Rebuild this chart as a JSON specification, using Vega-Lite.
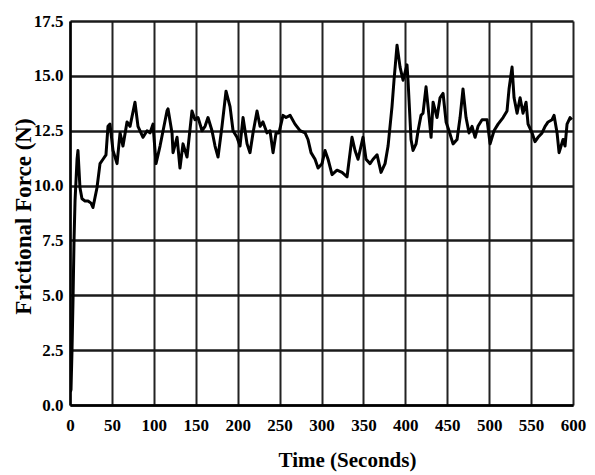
{
  "$schema": "https://vega.github.io/schema/vega-lite/v6.json",
  "autosize": {"type": "none"},
  "width": 503,
  "height": 384,
  "padding": {"left": 70, "top": 21, "right": 22, "bottom": 70},
  "background": "white",
  "config": {
    "view": {"stroke": null},
    "font": "Liberation Serif"
  },
  "data": {
    "values": [
      {"t": 0.5, "f": 0.6}, {"t": 1.2, "f": 0.7}, {"t": 2.4, "f": 2.5}, {"t": 3.6, "f": 4.8}, {"t": 4.8, "f": 7.5},
      {"t": 6.0, "f": 9.3}, {"t": 8.4, "f": 11.2}, {"t": 9.5, "f": 11.6}, {"t": 11.9, "f": 9.9}, {"t": 14.3, "f": 9.4},
      {"t": 17.9, "f": 9.3}, {"t": 21.5, "f": 9.3}, {"t": 25.1, "f": 9.2}, {"t": 27.4, "f": 9.0}, {"t": 32.2, "f": 9.9},
      {"t": 35.8, "f": 11.0}, {"t": 39.4, "f": 11.2}, {"t": 42.9, "f": 11.4}, {"t": 45.3, "f": 12.7}, {"t": 47.7, "f": 12.8},
      {"t": 51.3, "f": 11.6}, {"t": 56.1, "f": 11.0}, {"t": 59.7, "f": 12.4}, {"t": 63.2, "f": 11.8}, {"t": 68.0, "f": 12.9},
      {"t": 71.6, "f": 12.7}, {"t": 77.5, "f": 13.8}, {"t": 81.1, "f": 12.7}, {"t": 87.1, "f": 12.2}, {"t": 91.9, "f": 12.5},
      {"t": 95.4, "f": 12.4}, {"t": 99.0, "f": 12.8}, {"t": 102.6, "f": 11.0}, {"t": 107.4, "f": 11.8}, {"t": 115.7, "f": 13.4},
      {"t": 116.9, "f": 13.5}, {"t": 121.7, "f": 12.4}, {"t": 122.9, "f": 11.5}, {"t": 127.7, "f": 12.2}, {"t": 131.2, "f": 10.8},
      {"t": 134.8, "f": 11.9}, {"t": 139.6, "f": 11.3}, {"t": 145.5, "f": 13.4}, {"t": 149.1, "f": 13.0}, {"t": 152.7, "f": 13.1},
      {"t": 157.5, "f": 12.5}, {"t": 161.1, "f": 12.7}, {"t": 164.6, "f": 13.1}, {"t": 169.4, "f": 12.5}, {"t": 173.0, "f": 11.8},
      {"t": 176.6, "f": 11.3}, {"t": 181.3, "f": 12.7}, {"t": 186.1, "f": 14.3}, {"t": 190.9, "f": 13.6}, {"t": 194.5, "f": 12.5},
      {"t": 199.2, "f": 12.2}, {"t": 202.8, "f": 11.8}, {"t": 206.4, "f": 13.1}, {"t": 211.2, "f": 11.9}, {"t": 214.7, "f": 11.5},
      {"t": 218.3, "f": 12.4}, {"t": 223.1, "f": 13.4}, {"t": 226.7, "f": 12.7}, {"t": 230.2, "f": 12.9}, {"t": 235.0, "f": 12.4},
      {"t": 238.6, "f": 12.5}, {"t": 242.2, "f": 11.5}, {"t": 245.8, "f": 12.4}, {"t": 249.3, "f": 12.4}, {"t": 254.1, "f": 13.2},
      {"t": 257.7, "f": 13.1}, {"t": 262.5, "f": 13.2}, {"t": 268.4, "f": 12.8}, {"t": 274.4, "f": 12.5}, {"t": 280.4, "f": 12.4},
      {"t": 283.9, "f": 12.1}, {"t": 287.5, "f": 11.5}, {"t": 292.3, "f": 11.2}, {"t": 295.9, "f": 10.8}, {"t": 300.6, "f": 11.0},
      {"t": 304.2, "f": 11.6}, {"t": 307.8, "f": 11.2}, {"t": 312.6, "f": 10.5}, {"t": 318.5, "f": 10.7}, {"t": 324.5, "f": 10.6},
      {"t": 330.5, "f": 10.4}, {"t": 336.4, "f": 12.2}, {"t": 340.0, "f": 11.6}, {"t": 343.6, "f": 11.2}, {"t": 349.5, "f": 12.2},
      {"t": 353.1, "f": 11.2}, {"t": 357.9, "f": 11.0}, {"t": 361.5, "f": 11.2}, {"t": 366.3, "f": 11.4}, {"t": 371.0, "f": 10.6},
      {"t": 375.8, "f": 11.0}, {"t": 379.4, "f": 11.8}, {"t": 384.1, "f": 13.6}, {"t": 386.5, "f": 14.8}, {"t": 390.1, "f": 16.4},
      {"t": 393.7, "f": 15.4}, {"t": 397.3, "f": 14.8}, {"t": 402.0, "f": 15.5}, {"t": 403.2, "f": 14.8}, {"t": 406.8, "f": 12.1},
      {"t": 409.2, "f": 11.6}, {"t": 412.8, "f": 11.9}, {"t": 415.2, "f": 12.5}, {"t": 418.7, "f": 13.2}, {"t": 421.1, "f": 13.3},
      {"t": 424.7, "f": 14.5}, {"t": 427.1, "f": 13.6}, {"t": 430.7, "f": 12.2}, {"t": 433.1, "f": 13.8}, {"t": 437.8, "f": 13.1},
      {"t": 441.4, "f": 14.0}, {"t": 445.0, "f": 14.2}, {"t": 448.6, "f": 12.9}, {"t": 452.1, "f": 12.5}, {"t": 456.9, "f": 11.9},
      {"t": 461.7, "f": 12.1}, {"t": 465.3, "f": 13.1}, {"t": 468.8, "f": 14.4}, {"t": 472.4, "f": 13.1}, {"t": 476.0, "f": 12.4},
      {"t": 479.6, "f": 12.7}, {"t": 483.2, "f": 12.2}, {"t": 486.7, "f": 12.7}, {"t": 491.5, "f": 13.0}, {"t": 497.5, "f": 13.0},
      {"t": 501.1, "f": 11.9}, {"t": 505.8, "f": 12.5}, {"t": 510.6, "f": 12.8}, {"t": 516.6, "f": 13.1}, {"t": 521.3, "f": 13.4},
      {"t": 523.7, "f": 14.4}, {"t": 527.3, "f": 15.4}, {"t": 529.7, "f": 14.0}, {"t": 533.3, "f": 13.3}, {"t": 536.9, "f": 14.0},
      {"t": 540.4, "f": 13.3}, {"t": 544.0, "f": 13.8}, {"t": 546.4, "f": 12.8}, {"t": 551.2, "f": 12.4}, {"t": 554.7, "f": 12.0},
      {"t": 558.3, "f": 12.2}, {"t": 563.1, "f": 12.4}, {"t": 566.7, "f": 12.7}, {"t": 570.3, "f": 12.9}, {"t": 575.0, "f": 13.0},
      {"t": 577.4, "f": 13.2}, {"t": 581.0, "f": 12.4}, {"t": 583.4, "f": 11.5}, {"t": 588.1, "f": 12.1}, {"t": 590.5, "f": 11.8},
      {"t": 592.9, "f": 12.8}, {"t": 596.5, "f": 13.1}, {"t": 598.5, "f": 13.0}
    ]
  },
  "mark": {"type": "line", "color": "#000000", "strokeWidth": 3, "strokeJoin": "round", "clip": true},
  "encoding": {
    "x": {
      "field": "t",
      "type": "quantitative",
      "scale": {"domain": [0, 600], "nice": false, "zero": false},
      "axis": {
        "values": [0, 50, 100, 150, 200, 250, 300, 350, 400, 450, 500, 550, 600],
        "title": "Time (Seconds)",
        "titleFont": "Liberation Serif",
        "titleFontWeight": "bold",
        "titleFontSize": 21,
        "titleColor": "#000000",
        "titleX": 277,
        "titleY": 61,
        "titleBaseline": "alphabetic",
        "titleAnchor": "middle",
        "labelFont": "Liberation Serif",
        "labelFontWeight": "bold",
        "labelFontSize": 17,
        "labelColor": "#000000",
        "labelPadding": 12,
        "labelFlush": false,
        "labelOverlap": false,
        "ticks": false,
        "domain": true,
        "domainColor": "#000000",
        "domainWidth": 2.5,
        "grid": true,
        "gridColor": "#222222",
        "gridWidth": 2,
        "gridOpacity": 1
      }
    },
    "y": {
      "field": "f",
      "type": "quantitative",
      "scale": {"domain": [0, 17.5], "nice": false, "zero": false},
      "axis": {
        "values": [0, 2.5, 5, 7.5, 10, 12.5, 15, 17.5],
        "format": ".1f",
        "title": "Frictional Force (N)",
        "titleFont": "Liberation Serif",
        "titleFontWeight": "bold",
        "titleFontSize": 23,
        "titleColor": "#000000",
        "titleX": -40,
        "titleY": 195,
        "titleAngle": -90,
        "titleBaseline": "alphabetic",
        "titleAnchor": "middle",
        "labelFont": "Liberation Serif",
        "labelFontWeight": "bold",
        "labelFontSize": 17,
        "labelColor": "#000000",
        "labelPadding": 7,
        "labelFlush": false,
        "labelOverlap": false,
        "ticks": false,
        "domain": true,
        "domainColor": "#000000",
        "domainWidth": 2.5,
        "grid": true,
        "gridColor": "#1a1a1a",
        "gridWidth": 2.6,
        "gridOpacity": 1
      }
    }
  }
}
